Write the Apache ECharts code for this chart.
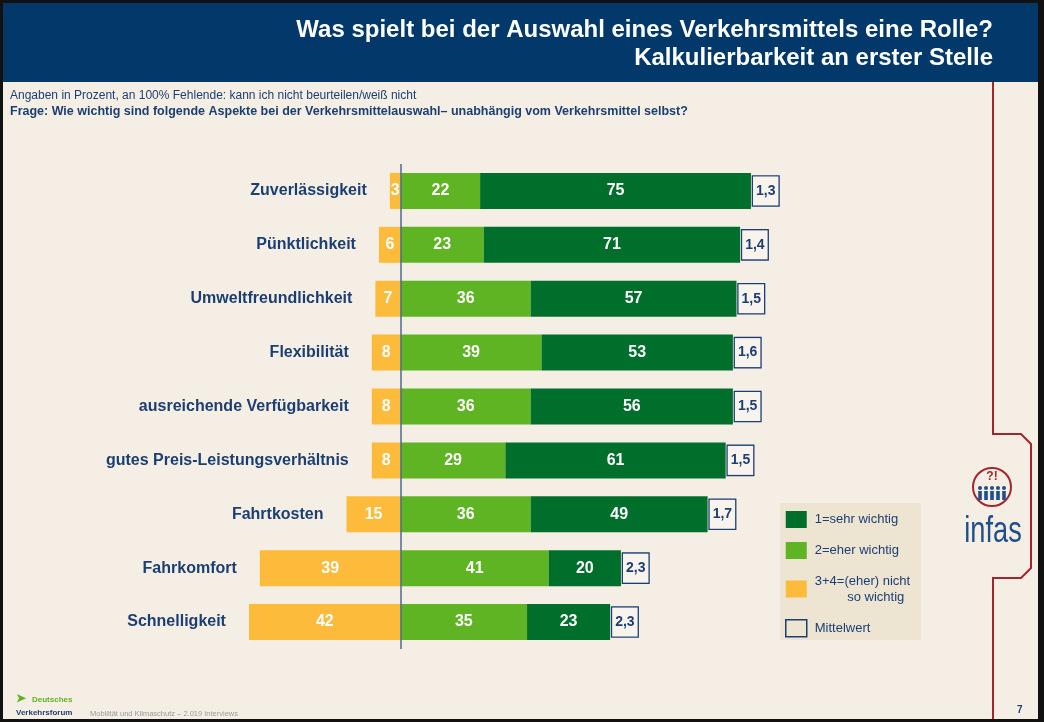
<!DOCTYPE html>
<html>
<head>
<meta charset="utf-8">
<script src="https://cdn.jsdelivr.net/npm/echarts@6/dist/echarts.min.js"></script>
<style>
  html, body { margin: 0; padding: 0; background: #f5eee4; }
  #chart { width: 1044px; height: 722px; }
</style>
</head>
<body>
<div id="chart"></div>
<script>
// Daten aus der Grafik
const categories = ['Zuverlässigkeit', 'Pünktlichkeit', 'Umweltfreundlichkeit', 'Flexibilität',
  'ausreichende Verfügbarkeit', 'gutes Preis-Leistungsverhältnis', 'Fahrtkosten', 'Fahrkomfort', 'Schnelligkeit']
const sehrWichtig = [75, 71, 57, 53, 56, 61, 49, 20, 23]
const eherWichtig = [22, 23, 36, 39, 36, 29, 36, 41, 35]
const nichtWichtig = [3, 6, 7, 8, 8, 8, 15, 39, 42]
const mittelwert = [1.3, 1.4, 1.5, 1.6, 1.5, 1.5, 1.7, 2.3, 2.3]

const navy = '#1c3f73'
const red = '#a4252c'
const font = 'Liberation Sans, Arial, sans-serif'

const barLabel = {
  show: true, position: 'inside', color: '#fff', fontSize: 16, fontWeight: 'bold'
}

const chart = echarts.init(document.getElementById('chart'))

chart.setOption({
  backgroundColor: '#f5eee4',
  animation: false,
  textStyle: { fontFamily: font },
  grid: { left: 184, right: 210, top: 164, bottom: 73 },
  xAxis: { type: 'value', min: -60, max: 120, show: false, splitLine: { show: false } },
  yAxis: {
    type: 'category', data: categories, inverse: true,
    axisLine: { show: false }, axisTick: { show: false }, axisLabel: { show: false }
  },
  legend: {
    orient: 'vertical', left: 780, top: 506, itemWidth: 21, itemHeight: 17, itemGap: 14,
    selectedMode: false,
    textStyle: { color: navy, fontSize: 13, lineHeight: 16, padding: [0, 0, 0, 3] },
    data: [
      { name: '1=sehr wichtig', icon: 'rect' },
      { name: '2=eher wichtig', icon: 'rect' },
      { name: '3+4=(eher) nicht\n         so wichtig', icon: 'rect' },
      { name: 'Mittelwert', icon: 'rect',
        itemStyle: { color: 'rgba(0,0,0,0)', opacity: 1, borderColor: navy, borderWidth: 1.5 } }
    ]
  },
  series: [
    {
      name: '3+4=(eher) nicht\n         so wichtig', type: 'bar', stack: 'a', barWidth: 36,
      itemStyle: { color: '#fdbb3b' },
      label: Object.assign({}, barLabel, { formatter: p => Math.abs(p.value) }),
      data: nichtWichtig.map(v => -v)
    },
    {
      name: '2=eher wichtig', type: 'bar', stack: 'a', barWidth: 36,
      itemStyle: { color: '#5fb424' },
      label: barLabel,
      data: eherWichtig,
      markLine: {
        silent: true, symbol: ['none', 'none'],
        label: { show: false },
        lineStyle: { color: '#4d6b8c', width: 1.5, type: 'solid' },
        data: [{ xAxis: 0 }]
      }
    },
    {
      name: '1=sehr wichtig', type: 'bar', stack: 'a', barWidth: 36,
      itemStyle: { color: '#006f2c' },
      label: barLabel,
      data: sehrWichtig
    },
    {
      // Mittelwert-Kästchen rechts vom Balken
      name: 'Mittelwert', type: 'scatter', symbolSize: 0.1,
      itemStyle: { color: 'rgba(0,0,0,0)', opacity: 1 },
      label: {
        show: true, position: 'right', distance: 2,
        formatter: p => String(mittelwert[p.dataIndex]).replace('.', ','),
        color: navy, fontSize: 14, fontWeight: 'bold',
        borderColor: navy, borderWidth: 1.3, backgroundColor: '#f8f3ec',
        padding: [8, 3, 7, 3]
      },
      data: categories.map((c, i) => [eherWichtig[i] + sehrWichtig[i], c])
    },
    {
      // Kategorienamen links vom orangen Balken
      name: 'labels', type: 'scatter', symbolSize: 0.1,
      itemStyle: { color: 'rgba(0,0,0,0)', opacity: 1 },
      label: {
        show: true, position: 'left', distance: 23,
        formatter: p => categories[p.dataIndex],
        color: navy, fontSize: 16, fontWeight: 'bold'
      },
      data: categories.map((c, i) => [-nichtWichtig[i], c])
    }
  ],
  graphic: [
    // Kopfzeile
    { type: 'rect', z: -10, shape: { x: 0, y: 0, width: 1044, height: 82 }, style: { fill: '#03386b' } },
    { type: 'text', style: { x: 993, y: 30, text: 'Was spielt bei der Auswahl eines Verkehrsmittels eine Rolle?',
      fill: '#fff', font: 'bold 24px ' + font, align: 'right', verticalAlign: 'middle' } },
    { type: 'text', style: { x: 993, y: 58, text: 'Kalkulierbarkeit an erster Stelle',
      fill: '#fff', font: 'bold 24px ' + font, align: 'right', verticalAlign: 'middle' } },
    { type: 'text', style: { x: 10, y: 96, text: 'Angaben in Prozent, an 100% Fehlende: kann ich nicht beurteilen/weiß nicht',
      fill: navy, font: '12px ' + font, verticalAlign: 'middle' } },
    { type: 'text', style: { x: 10, y: 112, text: 'Frage: Wie wichtig sind folgende Aspekte bei der Verkehrsmittelauswahl– unabhängig vom Verkehrsmittel selbst?',
      fill: navy, font: 'bold 12.5px ' + font, verticalAlign: 'middle' } },
    // rote Linie mit Reiter
    { type: 'polyline', z: -5, shape: { points: [[993, 82], [993, 434], [1021, 434], [1031, 444], [1031, 568], [1021, 578], [993, 578], [993, 722]] },
      style: { stroke: red, lineWidth: 2, fill: null } },
    // Legendenhintergrund
    { type: 'rect', z: -8, shape: { x: 780, y: 503, width: 141, height: 137 }, style: { fill: '#ede4d2' } },
    // infas Logo
    { type: 'circle', shape: { cx: 992, cy: 487, r: 19 }, style: { stroke: red, lineWidth: 2, fill: null } },
    { type: 'text', style: { x: 992, y: 477, text: '?!', fill: red, font: 'bold 12px ' + font, align: 'center', verticalAlign: 'middle' } },
    ...[980, 986, 992, 998, 1004].map(x => ({ type: 'circle', shape: { cx: x, cy: 488, r: 2 }, style: { fill: '#1f4f8a' } })),
    ...[980, 986, 992, 998, 1004].map(x => ({ type: 'rect', shape: { x: x - 1.8, y: 491, width: 3.6, height: 9 }, style: { fill: '#1f4f8a' } })),
    { type: 'text', x: 993, y: 532, scaleX: 0.85, scaleY: 1.15,
      style: { x: 0, y: 0, text: 'infas', fill: '#1f4f8a', font: '32px ' + font, align: 'center', verticalAlign: 'middle' } },
    // Fußzeile
    { type: 'text', style: { x: 16, y: 699, text: '➤', fill: '#5fb424', font: 'bold 12px ' + font, verticalAlign: 'middle' } },
    { type: 'text', style: { x: 32, y: 700, text: 'Deutsches', fill: '#5fb424', font: 'bold 8px ' + font, verticalAlign: 'middle' } },
    { type: 'text', style: { x: 16, y: 713, text: 'Verkehrsforum', fill: '#1c3f73', font: 'bold 8px ' + font, verticalAlign: 'middle' } },
    { type: 'text', style: { x: 90, y: 714, text: 'Mobilität und Klimaschutz – 2.019 Interviews', fill: '#9a9a9a', font: '7.5px ' + font, verticalAlign: 'middle' } },
    { type: 'text', style: { x: 1017, y: 710, text: '7', fill: navy, font: 'bold 10px ' + font, verticalAlign: 'middle' } },
    // Rahmen
    { type: 'rect', shape: { x: 0, y: 0, width: 1044, height: 3 }, style: { fill: '#111' } },
    { type: 'rect', shape: { x: 0, y: 0, width: 3, height: 722 }, style: { fill: '#111' } },
    { type: 'rect', shape: { x: 1038, y: 0, width: 6, height: 722 }, style: { fill: '#111' } },
    { type: 'rect', shape: { x: 0, y: 719, width: 1044, height: 3 }, style: { fill: '#111' } }
  ]
})
</script>
</body>
</html>
